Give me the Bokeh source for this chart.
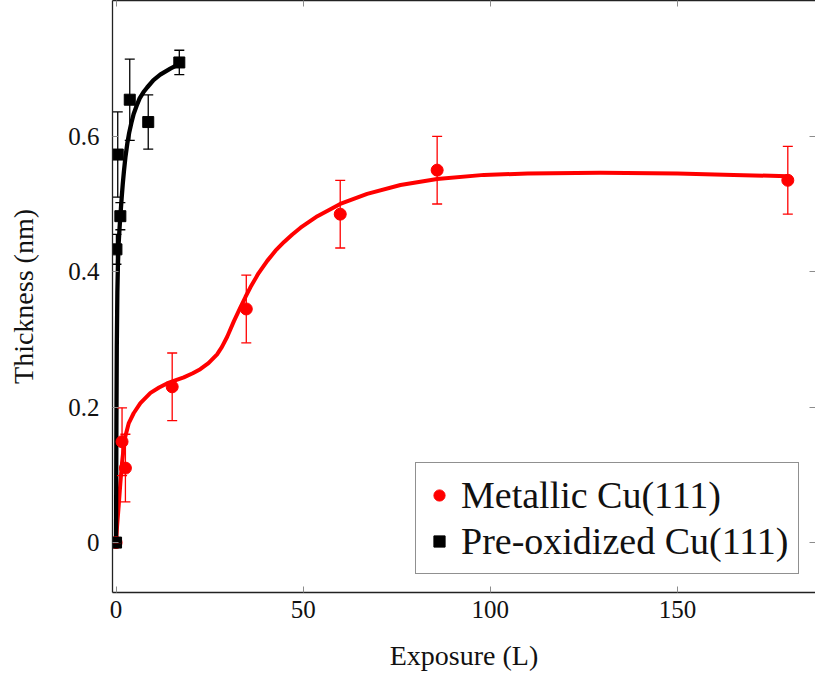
from bokeh.plotting import figure
from bokeh.models import (Range1d, FixedTicker, LinearAxis, Legend, LegendItem,
                          ColumnDataSource, Whisker, TeeHead)
from bokeh.embed import file_html
from bokeh.resources import INLINE

# ---- data ----
metal_x = [0, 1.6, 2.5, 15, 34.8, 59.9, 85.8, 179.5]
metal_y = [0, 0.149, 0.11, 0.23, 0.345, 0.485, 0.55, 0.535]
metal_err = [0, 0.05, 0.05, 0.05, 0.05, 0.05, 0.05, 0.05]

oxi_x = [0, 0.1, 0.45, 1.15, 3.66, 8.6, 16.9]
oxi_y = [0, 0.433, 0.573, 0.482, 0.654, 0.621, 0.709]
oxi_err = [0, 0.022, 0.063, 0.02, 0.06, 0.04, 0.018]

metal_fit_x = [0, 0.27, 0.7, 1.15, 1.6, 2.03, 2.49, 3.37, 4.7, 6.5, 9.2, 11.5,
               13.6, 16, 18.1, 20.5, 22.5, 24.7, 27, 28.3, 29.7, 31.5, 33.2,
               34.6, 35.9, 38.1, 40.4, 42.6, 44.9, 47.1, 49.3, 53.8, 59.9,
               67.1, 76, 85.8, 98.3, 110, 129.4, 150, 165, 179.5]
metal_fit_y = [0, 0.024, 0.054, 0.088, 0.118, 0.14, 0.157, 0.176, 0.191, 0.206,
               0.221, 0.229, 0.235, 0.24, 0.244, 0.25, 0.256, 0.265, 0.278,
               0.289, 0.304, 0.327, 0.347, 0.363, 0.377, 0.398, 0.416, 0.431,
               0.444, 0.455, 0.465, 0.482, 0.5, 0.515, 0.528, 0.537, 0.543,
               0.545, 0.546, 0.545, 0.543, 0.541]

oxi_fit_x = [0, 0.05, 0.1, 0.2, 0.35, 0.5, 0.7, 0.95, 1.2, 1.5, 1.8, 2.1, 2.5,
             3.0, 3.5, 4.1, 4.7, 5.5, 6.3, 7.3, 8.3, 10, 11.8, 14.5, 16.9]
oxi_fit_y = [0, 0.1, 0.18, 0.29, 0.37, 0.41, 0.442, 0.466, 0.486, 0.509, 0.53,
             0.548, 0.569, 0.589, 0.605, 0.62, 0.633, 0.645, 0.656, 0.665,
             0.672, 0.683, 0.691, 0.70, 0.707]

x_ticks = [0, 50, 100, 150]
x_tick_labels = ["0", "50", "100", "150"]
y_ticks = [0, 0.2, 0.4, 0.6]
y_tick_labels = ["0", "0.2", "0.4", "0.6"]

x_label = "Exposure (L)"
y_label = "Thickness (nm)"
names = ["Metallic Cu(111)", "Pre-oxidized Cu(111)"]

FONT = "Liberation Serif"
RED = "#ff0000"
BLACK = "#000000"
TICK = "#8c8c8c"
TEXT = "#111111"

p = figure(width=815, height=680, output_backend="svg", toolbar_location=None,
           x_range=Range1d(-0.95, 186.9), y_range=Range1d(-0.0737, 0.8005),
           min_border_left=112, min_border_bottom=88, min_border_top=0,
           min_border_right=0, x_axis_location=None, y_axis_location=None)
p.outline_line_color = None
p.grid.visible = False
p.background_fill_color = "white"
p.border_fill_color = "white"


def style_axis(ax, ticks, labels, show_labels, line=True):
    ax.ticker = FixedTicker(ticks=ticks)
    ax.major_tick_in = 6
    ax.major_tick_out = 0
    ax.minor_tick_in = 0
    ax.minor_tick_out = 0
    ax.major_tick_line_color = TICK
    ax.major_tick_line_width = 1
    ax.axis_line_color = "#222222" if line else None
    ax.axis_line_width = 1.3
    ax.major_label_text_font = FONT
    if show_labels:
        ax.major_label_overrides = {t: l for t, l in zip(ticks, labels)}
        ax.major_label_text_font_size = "25px"
        ax.major_label_text_color = TEXT
    else:
        ax.major_label_text_color = None
        ax.major_label_text_alpha = 0
        ax.major_label_text_font_size = "0px"
        ax.major_label_standoff = 0


xb = LinearAxis(axis_label=x_label)
style_axis(xb, x_ticks, x_tick_labels, True)
xb.major_label_standoff = 8
xb.axis_label_text_font = FONT
xb.axis_label_text_font_size = "28px"
xb.axis_label_text_font_style = "normal"
xb.axis_label_text_color = TEXT
xb.axis_label_standoff = 19
p.add_layout(xb, "below")

yl = LinearAxis(axis_label=y_label)
style_axis(yl, y_ticks, y_tick_labels, True)
yl.major_label_standoff = 13
yl.axis_label_text_font = FONT
yl.axis_label_text_font_size = "28px"
yl.axis_label_text_font_style = "normal"
yl.axis_label_text_color = TEXT
yl.axis_label_standoff = 26
p.add_layout(yl, "left")

xt = LinearAxis()
style_axis(xt, x_ticks, x_tick_labels, False)
p.add_layout(xt, "above")

yr = LinearAxis()
style_axis(yr, y_ticks, y_tick_labels, False, line=False)
p.add_layout(yr, "right")

# ---- fits ----
p.line(metal_fit_x, metal_fit_y, line_color=RED, line_width=4, line_join="round")
p.line(oxi_fit_x, oxi_fit_y, line_color=BLACK, line_width=4.3, line_join="round")

# ---- error bars ----
ms = ColumnDataSource(dict(x=metal_x, y=metal_y,
                           lo=[y - e for y, e in zip(metal_y, metal_err)],
                           hi=[y + e for y, e in zip(metal_y, metal_err)]))
os_ = ColumnDataSource(dict(x=oxi_x, y=oxi_y,
                            lo=[y - e for y, e in zip(oxi_y, oxi_err)],
                            hi=[y + e for y, e in zip(oxi_y, oxi_err)]))

for src, col in ((ms, RED), (os_, BLACK)):
    w = Whisker(source=src, base="x", lower="lo", upper="hi", dimension="height",
                line_color=col, line_width=1.3,
                lower_head=TeeHead(size=10, line_color=col, line_width=1.3),
                upper_head=TeeHead(size=10, line_color=col, line_width=1.3))
    w.level = "glyph"
    p.add_layout(w)

r_metal = p.scatter("x", "y", source=ms, marker="circle", size=12,
                    fill_color=RED, line_color=RED)
r_oxi = p.scatter("x", "y", source=os_, marker="square", size=11,
                  fill_color=BLACK, line_color=BLACK)

legend = Legend(items=[LegendItem(label=names[0], renderers=[r_metal]),
                       LegendItem(label=names[1], renderers=[r_oxi])],
                location=(303, 18))
legend.label_text_font = FONT
legend.label_text_font_size = "38px"
legend.label_text_color = TEXT
legend.glyph_width = 28
legend.glyph_height = 46
legend.label_height = 46
legend.label_standoff = 8
legend.spacing = 0
legend.padding = 9
legend.margin = 0
legend.border_line_color = "#222222"
legend.border_line_width = 1.3
legend.background_fill_color = "white"
legend.background_fill_alpha = 1.0
p.add_layout(legend)

open("out.html", "w").write(file_html(p, INLINE))
